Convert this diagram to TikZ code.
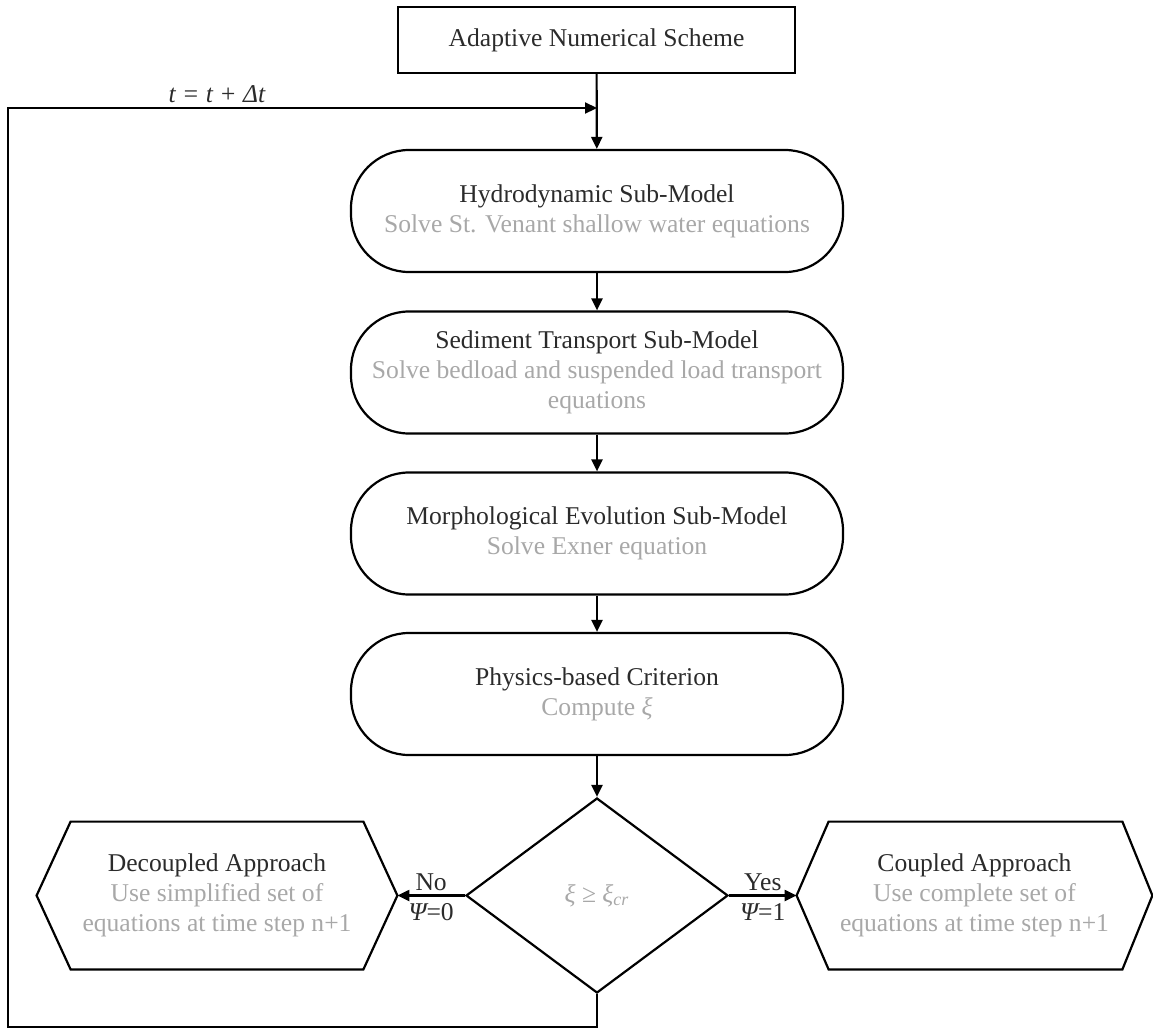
\documentclass[tikz,border=0pt]{standalone}
\usepackage{fontspec}
\setmainfont{Liberation Serif}
\usetikzlibrary{arrows.meta,shapes.geometric}
\definecolor{ttl}{HTML}{2B2B2B}
\definecolor{sub}{HTML}{A8A8A8}
\begin{document}
\begin{tikzpicture}[x=0.5pt,y=-0.5pt,
  every node/.style={font=\fontsize{12.8pt}{15pt}\selectfont, text=ttl},
  topbox/.style={draw, line width=1.1pt, minimum width=198.5pt, minimum height=33pt, inner sep=0pt},
  pill/.style={draw, line width=1.1pt, rounded corners=29pt, minimum width=246pt, minimum height=61pt, align=center, inner sep=0pt},
  hexbox/.style={minimum height=73.5pt, inner sep=0pt, align=center},
  arr/.style={-{Triangle[length=6pt,width=5.5pt]}, line width=1.1pt},
  conn/.style={line width=1.1pt}]
\useasboundingbox (0,0) rectangle (1153,1029);

\node[topbox] (top) at (596.5,40) {Adaptive Numerical Scheme};

\node[pill] (hyd) at (597,211) {Hydrodynamic Sub-Model\\ \textcolor{sub}{Solve St. Venant shallow water equations}};
\node[pill] (sed) at (597,372.5) {Sediment Transport Sub-Model\\ \textcolor{sub}{Solve bedload and suspended load transport}\\ \textcolor{sub}{equations}};
\node[pill] (mor) at (597,533.5) {Morphological Evolution Sub-Model\\ \textcolor{sub}{Solve Exner equation}};
\node[pill] (phy) at (597,694) {Physics-based Criterion\\ \textcolor{sub}{Compute {\itshape ξ}}};

\node[diamond, draw, line width=1.1pt, minimum width=131pt, minimum height=97.5pt, inner sep=0pt, text=sub] (dia) at (597,895.5) {{\itshape ξ} ≥ {\itshape ξ}\textsubscript{\itshape cr}};

\node[hexbox, minimum width=180pt] (dec) at (217,895.5) {Decoupled Approach\\ \textcolor{sub}{Use simplified set of}\\ \textcolor{sub}{equations at time step n+1}};
\draw[conn] (dec.west) -- ([xshift=17pt]dec.north west) -- ([xshift=-17pt]dec.north east) -- (dec.east) -- ([xshift=-17pt]dec.south east) -- ([xshift=17pt]dec.south west) -- cycle;

\node[hexbox, minimum width=177.5pt] (cou) at (974.5,895.5) {Coupled Approach\\ \textcolor{sub}{Use complete set of}\\ \textcolor{sub}{equations at time step n+1}};
\draw[conn] (cou.west) -- ([xshift=16pt]cou.north west) -- ([xshift=-15pt]cou.north east) -- (cou.east) -- ([xshift=-15pt]cou.south east) -- ([xshift=16pt]cou.south west) -- cycle;

\draw[arr] (top) -- (hyd);
\draw[arr] (hyd) -- (sed);
\draw[arr] (sed) -- (mor);
\draw[arr] (mor) -- (phy);
\draw[arr] (phy) -- (dia);

\draw[arr] (dia.west) -- (dec.east) node[midway, above=2pt, inner sep=0pt] {No} node[midway, below=3.5pt, inner sep=0pt] {{\itshape Ψ}=0};
\draw[arr] (dia.east) -- (cou.west) node[midway, above=2pt, inner sep=0pt] {Yes} node[midway, below=3.5pt, inner sep=0pt] {{\itshape Ψ}=1};

\coordinate (c1) at (597,1027);
\coordinate (c2) at (8,1027);
\coordinate (c3) at (8,108);
\coordinate (c4) at (597,108);
\draw[arr] (dia.south) -- (c1) -- (c2) -- (c3) -- (c4);
\node[font=\fontsize{12.8pt}{15pt}\itshape] (lab) at (217,94) {t = t + Δt};
\end{tikzpicture}
\end{document}
